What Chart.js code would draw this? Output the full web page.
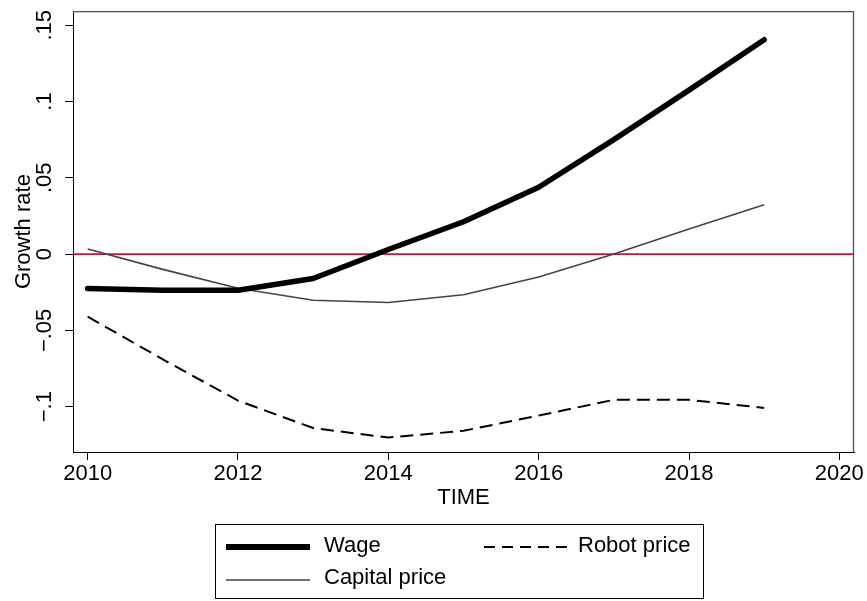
<!DOCTYPE html>
<html><head><meta charset="utf-8">
<script src="https://cdn.jsdelivr.net/npm/chart.js@4"></script>
<style>
html,body{margin:0;padding:0;background:#fff;}
#wrap{position:relative;width:867px;height:601px;overflow:hidden;background:#fff;font-family:"Liberation Sans",Arial,sans-serif;}
#chart{position:absolute;left:0;top:0;}
#legendBox{position:absolute;left:215px;top:524px;width:489px;height:75px;border:1px solid #000;box-sizing:border-box;}
.lg{position:absolute;font-size:22px;line-height:26px;height:26px;color:#000;white-space:nowrap;}
.ls{position:absolute;overflow:visible;}
</style></head>
<body>
<div id="wrap">
<canvas id="chart" width="867" height="601"></canvas>
<div id="legendBox"></div>
<svg class="ls" style="left:226px;top:541.7px" width="84" height="10"><line x1="0" y1="5" x2="84" y2="5" stroke="#000" stroke-width="6"/></svg>
<div class="lg" style="left:324px;top:531.5px">Wage</div>
<svg class="ls" style="left:484px;top:541.7px" width="84" height="10"><line x1="0" y1="5" x2="84" y2="5" stroke="#000" stroke-width="2" stroke-dasharray="11 7"/></svg>
<div class="lg" style="left:578px;top:531.5px">Robot price</div>
<svg class="ls" style="left:226px;top:575px" width="84" height="10"><line x1="0" y1="5" x2="84" y2="5" stroke="#444" stroke-width="1.6"/></svg>
<div class="lg" style="left:324px;top:564px">Capital price</div>
</div>
<script>
const years = [2010, 2011, 2012, 2013, 2014, 2015, 2016, 2017, 2018, 2019];
const wage = [-0.0226, -0.0237, -0.0237, -0.0160, 0.0030, 0.0212, 0.0438, 0.0750, 0.1075, 0.1405];
const robotPrice = [-0.0410, -0.0690, -0.0960, -0.1140, -0.1202, -0.1158, -0.1058, -0.0955, -0.0955, -0.1008];
const capitalPrice = [0.0034, -0.0100, -0.0224, -0.0302, -0.0317, -0.0266, -0.0150, 0.0000, 0.0165, 0.0323];
const seriesNames = ['Wage', 'Robot price', 'Capital price'];
const xTickValues = [2010, 2012, 2014, 2016, 2018, 2020];
const xTickLabels = ['2010', '2012', '2014', '2016', '2018', '2020'];
const yTickValues = [-0.1, -0.05, 0, 0.05, 0.1, 0.15];
const yTickLabels = ['\u2212.1', '\u2212.05', '0', '.05', '.1', '.15'];
const xTitle = 'TIME';
const yTitle = 'Growth rate';
const xRange = [2009.805, 2020.195];
const yRange = [-0.1297, 0.1592];

const FONT = {family: '"Liberation Sans", Arial, sans-serif', size: 22};
const toPts = arr => arr.map((v, i) => ({x: years[i], y: v}));

const zeroLine = {
  id: 'zeroLine',
  beforeDatasetsDraw(chart) {
    const {ctx, chartArea: a, scales: {y}} = chart;
    const py = y.getPixelForValue(0);
    ctx.save();
    ctx.strokeStyle = '#c8143c';
    ctx.lineWidth = 1.6;
    ctx.beginPath(); ctx.moveTo(a.left, py); ctx.lineTo(a.right, py); ctx.stroke();
    ctx.restore();
  }
};
const frame = {
  id: 'frame',
  afterDraw(chart) {
    const {ctx, chartArea: a} = chart;
    ctx.save();
    ctx.strokeStyle = '#505050';
    ctx.lineWidth = 1.3;
    ctx.beginPath();
    ctx.moveTo(a.left, a.top + 0.5); ctx.lineTo(a.right - 0.5, a.top + 0.5); ctx.lineTo(a.right - 0.5, a.bottom);
    ctx.stroke();
    ctx.restore();
  }
};

const gridOpts = {display: true, drawOnChartArea: false, drawTicks: true, tickLength: 8, tickColor: '#000', tickWidth: 1};

new Chart(document.getElementById('chart'), {
  type: 'line',
  data: {
    datasets: [
      {label: seriesNames[0], data: toPts(wage), borderColor: '#000', borderWidth: 5.5, borderCapStyle: 'round', borderJoinStyle: 'round', pointRadius: 0, tension: 0, fill: false, order: 1},
      {label: seriesNames[1], data: toPts(robotPrice), borderColor: '#000', borderWidth: 2, borderDash: [13, 7], pointRadius: 0, tension: 0, fill: false, order: 2},
      {label: seriesNames[2], data: toPts(capitalPrice), borderColor: '#444', borderWidth: 1.6, pointRadius: 0, tension: 0, fill: false, order: 3}
    ]
  },
  options: {
    responsive: false,
    animation: false,
    devicePixelRatio: 1,
    layout: {padding: {top: 4, right: 13, left: 0, bottom: 0}},
    plugins: {legend: {display: false}, tooltip: {enabled: false}},
    scales: {
      x: {
        type: 'linear', min: xRange[0], max: xRange[1],
        afterBuildTicks: s => { s.ticks = xTickValues.map(v => ({value: v})); },
        ticks: {font: FONT, color: '#000', padding: 1, maxRotation: 0, minRotation: 0, autoSkip: false,
          callback: (v, i) => xTickLabels[i]},
        grid: gridOpts,
        border: {display: true, color: '#000', width: 1},
        title: {display: true, text: xTitle, font: FONT, color: '#000', padding: {top: 0, bottom: 90}},
        afterFit: s => { s.height = 601 - 452; }
      },
      y: {
        type: 'linear', min: yRange[0], max: yRange[1],
        afterBuildTicks: s => { s.ticks = yTickValues.map(v => ({value: v})); },
        ticks: {font: FONT, color: '#000', padding: -2, minRotation: 90, maxRotation: 90, crossAlign: 'center', autoSkip: false,
          callback: (v, i) => yTickLabels[i]},
        grid: gridOpts,
        border: {display: true, color: '#000', width: 1},
        title: {display: true, text: yTitle, font: FONT, color: '#000', padding: {top: 11, bottom: 0}},
        afterFit: s => { s.width = 73; }
      }
    }
  },
  plugins: [zeroLine, frame]
});
</script>
</body></html>
